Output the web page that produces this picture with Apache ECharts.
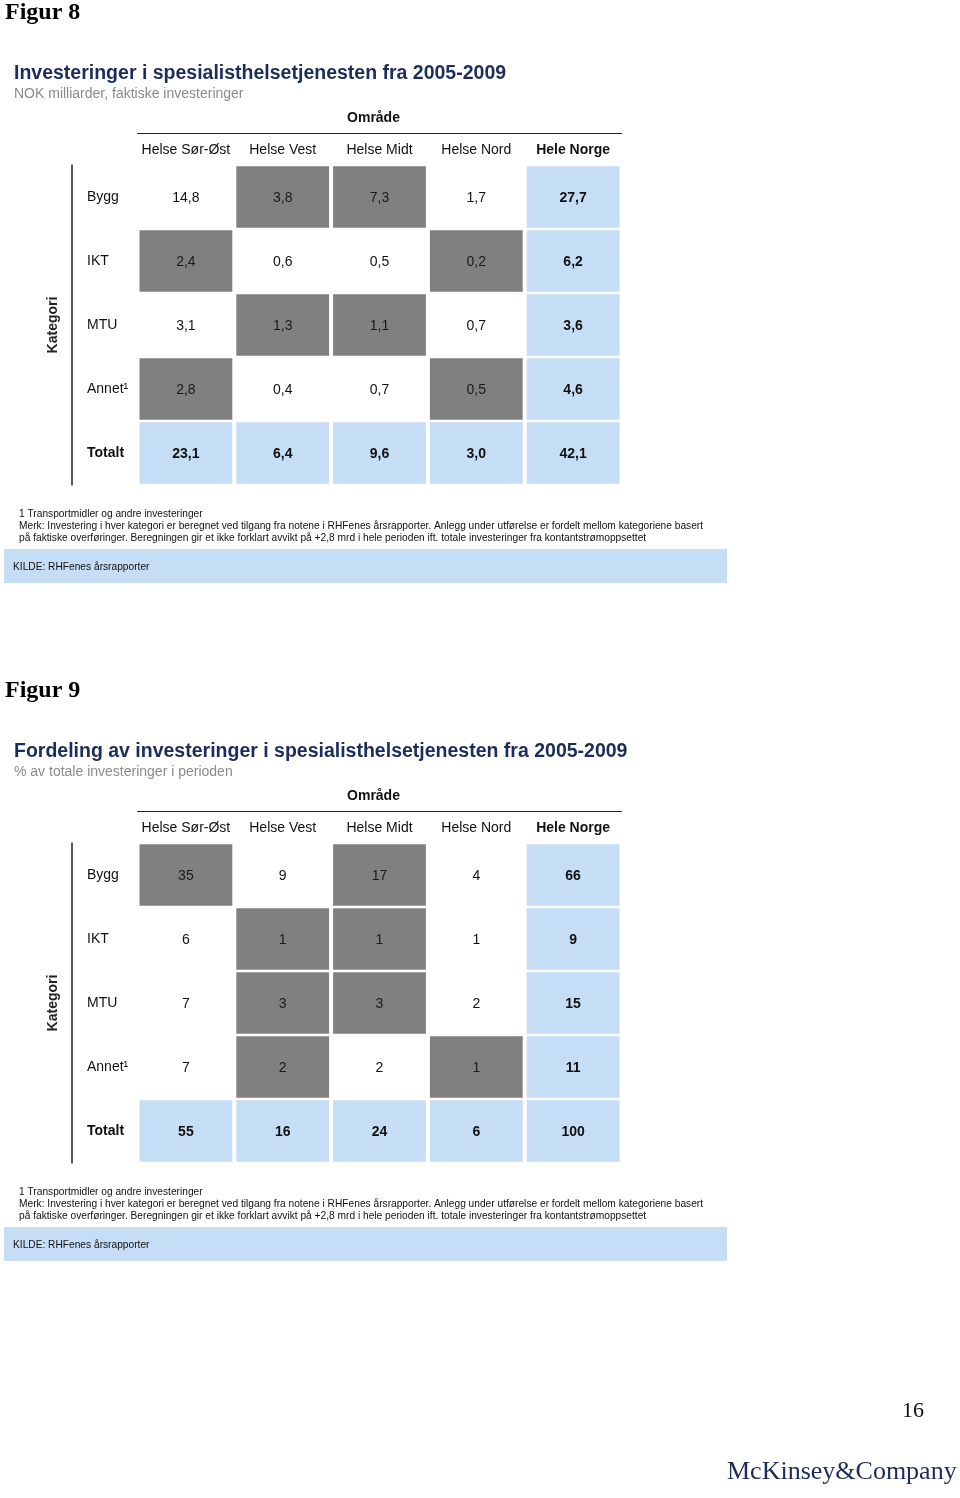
<!DOCTYPE html>
<html>
<head>
<meta charset="utf-8">
<script src="https://cdn.jsdelivr.net/npm/echarts@6/dist/echarts.min.js"></script>
<style>
html,body{margin:0;padding:0;background:#fff;}
#c{width:960px;height:1498px;}
</style>
</head>
<body>
<div id="c"></div>
<script>
// ---- data ----
const regions = ['Helse Sør-Øst', 'Helse Vest', 'Helse Midt', 'Helse Nord', 'Hele Norge'];
const categories = ['Bygg', 'IKT', 'MTU', 'Annet¹', 'Totalt'];
// Figur 8: NOK milliarder (rows = categories, cols = regions)
const investBygg = [14.8, 3.8, 7.3, 1.7, 27.7];
const investIKT = [2.4, 0.6, 0.5, 0.2, 6.2];
const investMTU = [3.1, 1.3, 1.1, 0.7, 3.6];
const investAnnet = [2.8, 0.4, 0.7, 0.5, 4.6];
const investTotalt = [23.1, 6.4, 9.6, 3.0, 42.1];
// Figur 9: % av totale investeringer
const shareBygg = [35, 9, 17, 4, 66];
const shareIKT = [6, 1, 1, 1, 9];
const shareMTU = [7, 3, 3, 2, 15];
const shareAnnet = [7, 2, 2, 1, 11];
const shareTotalt = [55, 16, 24, 6, 100];
// grey highlighted cells (1 = highlighted), rows Bygg..Annet, cols Sør-Øst..Nord
const highlight8 = [[0,1,1,0],[1,0,0,1],[0,1,1,0],[1,0,0,1]];
const highlight9 = [[1,0,1,0],[0,1,1,0],[0,1,1,0],[0,1,0,1]];

const invest = [investBygg, investIKT, investMTU, investAnnet, investTotalt];
const share = [shareBygg, shareIKT, shareMTU, shareAnnet, shareTotalt];

const FONT = "'Liberation Sans', Arial, sans-serif";
const SERIF = "'Liberation Serif', 'Times New Roman', serif";
const BLUE = '#c6ddf6';
const GREY = '#808080';
const NAVY = '#1c2c5b';

function buildData(rows, hl, fmt) {
  const out = [];
  rows.forEach((row, r) => {
    row.forEach((v, c) => {
      let kind = 0; // 0 white, 1 grey, 2 blue
      if (r === rows.length - 1 || c === row.length - 1) kind = 2;
      else if (hl[r][c]) kind = 1;
      out.push([c, r, fmt(v), kind]);
    });
  });
  return out;
}
const fmtDec = v => v.toFixed(1).replace('.', ',');
const fmtInt = v => String(v);

function renderCell(params, api) {
  const c = api.value(0), r = api.value(1);
  const kind = api.value(3);
  const p = api.coord([c, r]);
  const s = api.size([1, 1]);
  const w = s[0] - 4, h = s[1] - 2.5;
  const bold = (kind === 2);
  const children = [];
  if (kind > 0) {
    children.push({
      type: 'rect',
      shape: { x: p[0] - w / 2, y: p[1] - h / 2, width: w, height: h },
      style: { fill: kind === 1 ? GREY : BLUE }
    });
  }
  children.push({
    type: 'text',
    style: {
      text: String(api.value(2)),
      x: p[0], y: p[1] + 1,
      textAlign: 'center', textVerticalAlign: 'middle',
      font: (bold ? 'bold ' : '') + '14px ' + FONT,
      fill: kind === 1 ? '#1a1a1a' : '#111'
    }
  });
  return { type: 'group', children };
}

function xAxisFor(g) {
  return {
    type: 'category', gridIndex: g, data: regions, position: 'top', offset: 32,
    name: 'Område', nameLocation: 'middle', nameGap: 8,
    nameTextStyle: { fontFamily: FONT, fontSize: 14, fontWeight: 'bold', color: '#111', padding: [0, 12, 0, 0] },
    axisLine: { show: true, lineStyle: { color: '#222', width: 1 } },
    axisTick: { show: false }, splitLine: { show: false },
    axisLabel: {
      interval: 0, hideOverlap: false,
      inside: true, margin: 10, fontFamily: FONT, fontSize: 14, color: '#111',
      formatter: (v) => v === 'Hele Norge' ? '{b|' + v + '}' : v,
      rich: { b: { fontFamily: FONT, fontSize: 14, fontWeight: 'bold', color: '#111' } }
    }
  };
}
function yAxisFor(g) {
  return {
    type: 'category', gridIndex: g, data: categories, inverse: true, position: 'left', offset: 65.5,
    name: 'Kategori', nameLocation: 'middle', nameGap: 12, nameRotate: 90,
    nameTextStyle: { fontFamily: FONT, fontSize: 14, fontWeight: 'bold', color: '#222' },
    axisLine: { show: true, lineStyle: { color: '#222', width: 1.5 } },
    axisTick: { show: false }, splitLine: { show: false },
    axisLabel: {
      interval: 0,
      inside: true, margin: 15, fontFamily: FONT, fontSize: 14, color: '#111',
      formatter: (v) => v === 'Totalt' ? '{b|' + v + '}' : v,
      rich: { b: { fontFamily: FONT, fontSize: 14, fontWeight: 'bold', color: '#111' } }
    }
  };
}

function textEl(text, x, y, font, fill, align) {
  return { type: 'text', silent: true, style: { text, x, y, font, fill: fill || '#111', textAlign: align || 'left', textVerticalAlign: 'middle' } };
}
const NOTE1 = '1 Transportmidler og andre investeringer';
const NOTE2 = 'Merk: Investering i hver kategori er beregnet ved tilgang fra notene i RHFenes årsrapporter. Anlegg under utførelse er fordelt mellom kategoriene basert';
const NOTE3 = 'på faktiske overføringer. Beregningen gir et ikke forklart avvikt på +2,8 mrd i hele perioden ift. totale investeringer fra kontantstrømoppsettet';
const SOURCE = 'KILDE: RHFenes årsrapporter';

function figureGraphics(dy, fig, title, subtitle) {
  const small = '10.2px ' + FONT;
  return [
    textEl(fig, 5, 13 + dy, 'bold 24px ' + SERIF, '#000'),
    textEl(title, 14, 74 + dy, 'bold 19.5px ' + FONT, NAVY),
    textEl(subtitle, 14, 94 + dy, '14px ' + FONT, '#8a8a8a'),
    textEl(NOTE1, 19, 514 + dy, small, '#111'),
    textEl(NOTE2, 19, 526 + dy, small, '#111'),
    textEl(NOTE3, 19, 538 + dy, small, '#111'),
    { type: 'rect', silent: true, shape: { x: 4, y: 549 + dy, width: 723, height: 34 }, style: { fill: BLUE } },
    textEl(SOURCE, 13, 567 + dy, small, '#111')
  ];
}

const chart = echarts.init(document.getElementById('c'), null, { renderer: 'canvas' });
chart.setOption({
  backgroundColor: '#fff',
  animation: false,
  grid: [
    { left: 137.5, top: 165, width: 484, height: 320 },
    { left: 137.5, top: 843, width: 484, height: 320 }
  ],
  xAxis: [xAxisFor(0), xAxisFor(1)],
  yAxis: [yAxisFor(0), yAxisFor(1)],
  series: [
    { type: 'custom', xAxisIndex: 0, yAxisIndex: 0, renderItem: renderCell, encode: { x: 0, y: 1 }, data: buildData(invest, highlight8, fmtDec), clip: false },
    { type: 'custom', xAxisIndex: 1, yAxisIndex: 1, renderItem: renderCell, encode: { x: 0, y: 1 }, data: buildData(share, highlight9, fmtInt), clip: false }
  ],
  graphic: [].concat(
    figureGraphics(0, 'Figur 8', 'Investeringer i spesialisthelsetjenesten fra 2005-2009', 'NOK milliarder, faktiske investeringer'),
    figureGraphics(678, 'Figur 9', 'Fordeling av investeringer i spesialisthelsetjenesten fra 2005-2009', '% av totale investeringer i perioden'),
    [
      textEl('16', 913, 1411, '22px ' + SERIF, '#111', 'center'),
      textEl('McKinsey&Company', 727, 1472, '26px ' + SERIF, NAVY, 'left')
    ]
  )
});
</script>
</body>
</html>
